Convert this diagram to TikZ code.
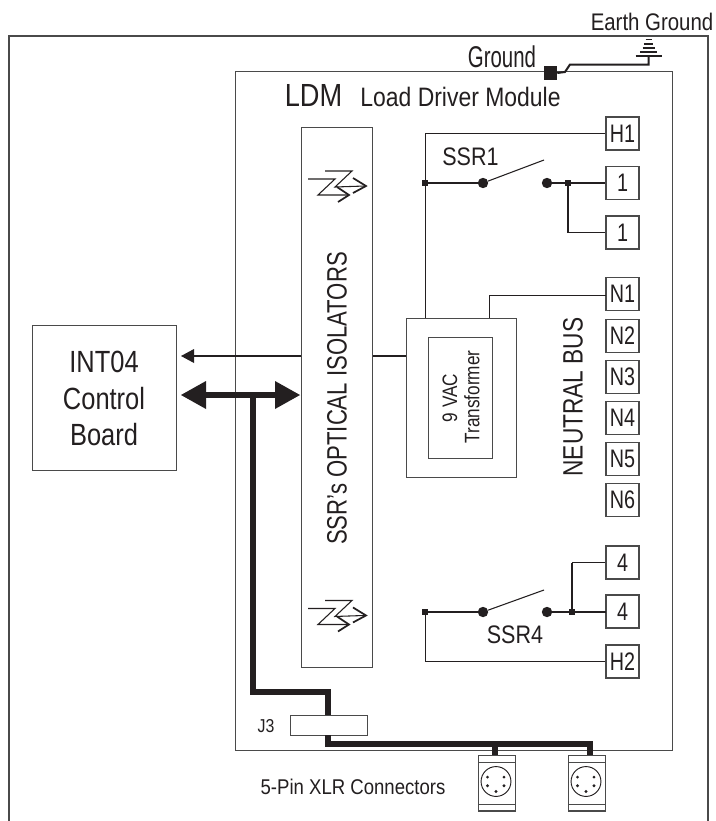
\documentclass[tikz,border=0pt]{standalone}
\usepackage{fontspec}
\setmainfont{Liberation Sans}
\usetikzlibrary{arrows.meta,calc}
\definecolor{ink}{HTML}{231F20}
\definecolor{edge}{HTML}{4A4A4A}
\newcommand{\nar}[2][.85]{\scalebox{#1}[1]{#2}}
\newcommand{\fs}[1]{\fontsize{#1}{#1}\selectfont}
\tikzset{
  x=0.75pt,y=-0.75pt,
  box/.style={draw=edge,line width=0.9pt,fill=white,inner sep=0pt,text=ink},
  term/.style={box,minimum width=24.75pt,minimum height=24.75pt,font=\fs{19}},
  lbl/.style={inner sep=0pt,text=ink},
  blbl/.style={lbl,anchor=base},
  thinw/.style={draw=ink,line width=0.75pt},
  midw/.style={draw=ink,line width=1.5pt},
  thick wire/.style={draw=ink,line width=4.2pt},
  dotn/.style={circle,fill=ink,inner sep=0pt,minimum size=7.8pt},
  jct/.style={rectangle,fill=ink,inner sep=0pt,minimum size=4.2pt},
  lever/.style={draw=ink,line width=0.8pt},
  icon/.style={draw=ink,line width=0.8pt},
  xlrbody/.style={box,minimum width=27.5pt,minimum height=41.5pt},
}
\newcommand{\xlrdetail}[2]{%
  \draw[edge,line width=0.7pt] (#1,762) -- +(37,0) (#1,804) -- +(37,0);
  \draw[ink,line width=0.7pt] (#2,781.5) circle[radius=11.2pt];
  \foreach \a/\b in {-8.5/-4.4,8/-4.4,-8.5/4.3,8/4.3,0/10}{\fill[ink] (#2+\a,781.5+\b) circle[radius=1.2pt];}
}
\newcommand{\opto}[1]{%
  \begin{scope}[yshift=#1]
  \draw[icon] (308,179)--(335,179)--(318,195)--(348,195);
  \draw[icon] (325,171)--(352,171)--(335,187)--(365,186);
  \draw[icon,line width=1.3pt] (337,187)--(349,195)--(338,202);
  \draw[icon,line width=1.3pt] (353,178)--(366,186)--(353,193);
  \end{scope}
}
\begin{document}
\begin{tikzpicture}
\useasboundingbox (0,0) rectangle (715,821);
\fill[white] (0,0) rectangle (715,821);
\coordinate (fbl) at (9,821);\coordinate (ftl) at (9,36);\coordinate (ftr) at (708,36);\coordinate (fbr) at (708,821);
\draw[edge,line width=0.9pt] (fbl)--(ftl)--(ftr)--(fbr);
\node[box,minimum width=327.75pt,minimum height=509.25pt,anchor=north west] (ldm) at (235,71) {};
\node[box,minimum width=53.25pt,minimum height=405pt,anchor=north west] (iso) at (301,127) {};
\node[box,minimum width=108pt,minimum height=108.75pt,anchor=north west] (int) at (32,325) {};
\node[box,minimum width=82.5pt,minimum height=119.25pt,anchor=north west] (tr) at (405.5,318) {};
\node[box,minimum width=48pt,minimum height=90.75pt,anchor=north west] (tri) at (428,337) {};
\node[blbl,font=\fs{23}] at (104,372) {\nar[.83]{INT04}};
\node[blbl,font=\fs{23}] at (104,409) {\nar[.83]{Control}};
\node[blbl,font=\fs{23}] at (104,445) {\nar[.83]{Board}};
% text
\node[blbl,font=\fs{18}] at (652,31) {\nar{Earth Ground}};
\node[blbl,font=\fs{22.5}] at (502,67) {\nar[.68]{Ground}};
\node[blbl,font=\fs{24}] at (313.5,106) {\nar{LDM}};
\node[blbl,font=\fs{20}] at (460.5,106) {\nar[.86]{Load Driver Module}};
\node[lbl,font=\fs{21},rotate=90] at (337,398.5) {\nar[.79]{SSR's OPTICAL ISOLATORS}};
\node[lbl,font=\fs{21},rotate=90] at (573,397) {\nar[.81]{NEUTRAL BUS}};
\node[lbl,font=\fs{15.7},rotate=90] at (450,398) {\nar[.82]{9 VAC}};
\node[lbl,font=\fs{15.7},rotate=90] at (472,397) {\nar[.82]{Transformer}};
\node[blbl,font=\fs{19}] at (470.5,165) {\nar{SSR1}};
\node[blbl,font=\fs{19}] at (515,643) {\nar{SSR4}};
\node[blbl,font=\fs{14}] at (266,732) {\nar{J3}};
\node[blbl,font=\fs{16}] at (353,794) {\nar[.87]{5-Pin XLR Connectors}};
% terminals
\foreach \n/\t/\y in {h1/H1/133.5,a1/1/183,b1/1/232.5,n1/N1/294,n2/N2/336,n3/N3/377,n4/N4/418,n5/N5/459,n6/N6/500,a4/4/562.5,b4/4/611.5,h2/H2/661.5}{
  \node[term] (\n) at (622.5,\y) {\nar[.78]{\t}};
}
% SSR1
\node[dotn] (s1a) at (483,183) {};
\node[dotn] (s1b) at (547,183) {};
\coordinate (s1t) at (544,160);
\node[jct] (j1l) at (425,183) {};
\node[jct] (j1r) at (568,183) {};
\draw[lever] (s1a)--(s1t);
\draw[midw] (j1l)--(s1a);
\draw[midw] (s1b)--(a1.west);
\draw[midw] (j1r)--(568,232.5);
\draw[thinw] (568,232.5)--(b1.west);
\coordinate (trh) at (425,318);
\draw[thinw] (trh)--(425,133.5)--(h1.west);
% N1
\coordinate (trn) at (489,318);
\draw[thinw] (trn)--(489,295)--(606,295);
% SSR4
\node[dotn] (s4a) at (483,612) {};
\node[dotn] (s4b) at (547,612) {};
\coordinate (s4t) at (544,590);
\node[jct] (j4l) at (425,612) {};
\node[jct] (j4r) at (572,612) {};
\draw[lever] (s4a)--(s4t);
\draw[midw] (j4l)--(s4a);
\draw[midw] (s4b)--(606,612);
\draw[midw] (j4r)--(572,562.5);
\draw[thinw] (572,562.5)--(a4.west);
\draw[thinw] (j4l)--(425,661.5)--(h2.west);
% optos
\opto{0}
\opto{-322.1}
% control arrows
\coordinate (ta) at (181,356);
\draw[ink,line width=1.9pt] (iso.west |- ta)--(192,356);
\fill[ink] (ta)--(194,349)--(194,363)--cycle;
\draw[ink,line width=1.9pt] (iso.east |- ta)--(tr.west |- ta);
\draw[ink,line width=5pt] (205,395)--(276,395);
\coordinate (tl) at (181,395);\coordinate (tr2) at (300,395);
\fill[ink] (tl)--(206,381)--(206,409)--cycle;
\fill[ink] (tr2)--(275,381)--(275,409)--cycle;
% XLR and J3
\node[box,minimum width=57.75pt,minimum height=15pt,anchor=north west] (j3) at (290,715) {};
\node[xlrbody,anchor=north west] (xa) at (478,755) {};
\node[xlrbody,anchor=north west] (xb) at (568,755) {};
\xlrdetail{478}{496}
\xlrdetail{568}{586}
\draw[thick wire,line cap=butt] (253,395)--(253,692)--(328,692)--(328,715);
\draw[thick wire,line cap=butt] (328,735)--(328,744)--(590,744)--(590,755);
\draw[thick wire] (495,744)--(495,755);
% ground
\node[rectangle,fill=ink,minimum width=9.75pt,minimum height=10.5pt,inner sep=0pt] (gnd) at (550.5,73) {};
\draw[ink,line width=1.5pt] (gnd.east)--(565,72)--(570,64.5)--(648.5,64.5)--(648.5,56);
\foreach \y/\w/\t in {56/13/1.5,52/8.7/1.2,48/6/1.2,44/4.7/1.2,39.5/3/1.2}{\draw[ink,line width=\t pt] (648.5-\w,\y)--(648.5+\w,\y);}
\end{tikzpicture}
\end{document}
